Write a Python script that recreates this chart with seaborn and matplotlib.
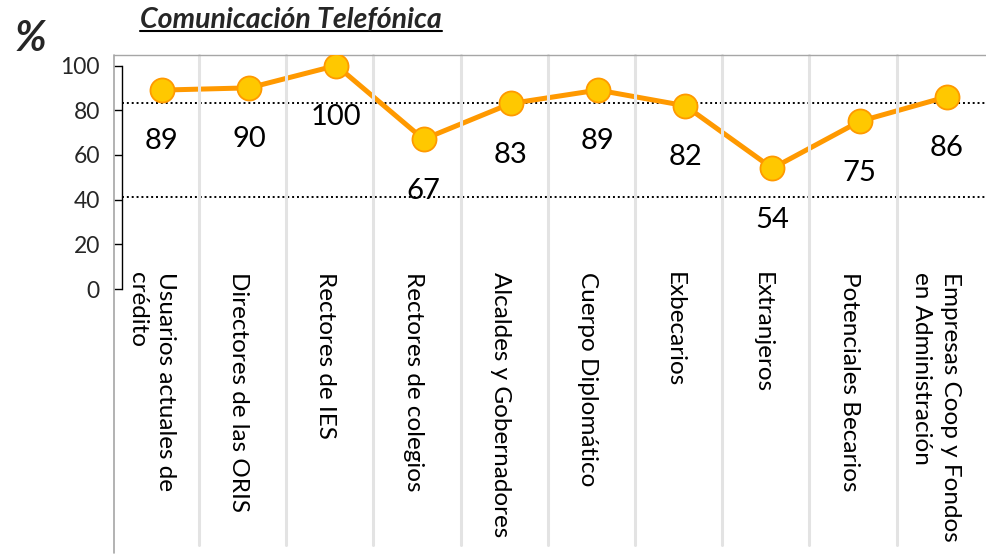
import numpy as np
import pandas as pd
import matplotlib
matplotlib.use('Agg')
import matplotlib.pyplot as plt
from matplotlib.lines import Line2D
from matplotlib.transforms import blended_transform_factory
import seaborn as sns

# datos del gráfico
categorias = ['Usuarios actuales de\ncrédito', 'Directores de las ORIS', 'Rectores de IES',
              'Rectores de colegios', 'Alcaldes y Gobernadores', 'Cuerpo Diplomático',
              'Exbecarios', 'Extranjeros', 'Potenciales Becarios',
              'Empresas Coop y Fondos\nen Administración']
valores = [89, 90, 100, 67, 83, 89, 82, 54, 75, 86]
lineas_ref = [83, 41]
yticks = [0, 20, 40, 60, 80, 100]
titulo = 'Comunicación Telefónica'

sns.set_style('white')
plt.rcParams['font.family'] = ['Lato', 'DejaVu Sans']

df = pd.DataFrame({'pos': np.arange(len(categorias)), 'valor': valores})

fig = plt.figure(figsize=(9.86, 5.55), dpi=100)
ax = fig.add_axes([114 / 986, (555 - 289) / 555, 872 / 986, 234 / 555])

# línea de datos
sns.lineplot(data=df, x='pos', y='valor', ax=ax, color='#FF9900', lw=3.6, zorder=2, legend=False)

# separadores verticales entre categorías (encima de la línea)
trans = blended_transform_factory(ax.transData, ax.transAxes)
for i in range(len(categorias) - 1):
    ax.plot([i + 0.425, i + 0.425], [-1.094, 1], transform=trans, color='#e3e3e3', lw=2.2,
            clip_on=False, zorder=2.5)

sns.scatterplot(data=df, x='pos', y='valor', ax=ax, s=300, color='#FFC800', edgecolor='#FF9900',
                linewidth=1.3, zorder=3, legend=False)

ax.set_xlim(-0.55, 9.45)
ax.set_ylim(0, 104.7)
ax.set_xlabel('')
ax.set_ylabel('')

# marco del área
for s in ['right', 'bottom']:
    ax.spines[s].set_visible(False)
ax.spines['top'].set_color('#a6a6a6')
ax.spines['top'].set_linewidth(1)
ax.spines['left'].set_position(('axes', 8 / 872))
ax.spines['left'].set_bounds(0, 100)
ax.spines['left'].set_color('black')
ax.spines['left'].set_linewidth(1)
ax.plot([0, 0], [-1.128, 1], transform=ax.transAxes, color='#a6a6a6', lw=1.2, clip_on=False)

ax.set_yticks(yticks)
ax.tick_params(axis='y', direction='out', length=6, width=1, color='black', pad=10, labelsize=16.5, left=True)
ax.set_xticks([])

# líneas punteadas de referencia
for v in lineas_ref:
    ax.axhline(v, xmin=8 / 872, xmax=1, color='black', ls=(0, (1, 1.5)), lw=1.4, zorder=1)

# etiquetas de datos
for i, v in enumerate(valores):
    ax.annotate(str(v), (i, v), xytext=(0, -37), textcoords='offset points',
                ha='center', va='center', fontsize=21, color='black', zorder=4)

# etiquetas de categorías
for i, c in enumerate(categorias):
    ax.text(i - 0.12, 7.6, c, rotation=270, ha='center', va='top', fontsize=17.5,
            linespacing=1.45, multialignment='left', color='black', clip_on=False)

# título y símbolo %
t = fig.text(291 / 986, 1 - 20 / 555, titulo, ha='center', va='center', fontsize=20.5,
             fontweight='bold', fontstyle='italic')
fig.text(31 / 986, 1 - 39 / 555, '%', ha='center', va='center', fontsize=30,
         fontweight='bold', fontstyle='italic')

fig.canvas.draw()
bb = t.get_window_extent()
fig.add_artist(Line2D([bb.x0, bb.x1], [bb.y0 + 2, bb.y0 + 2], transform=None, color='black', lw=1.5))

fig.savefig('out.png', dpi=100)
